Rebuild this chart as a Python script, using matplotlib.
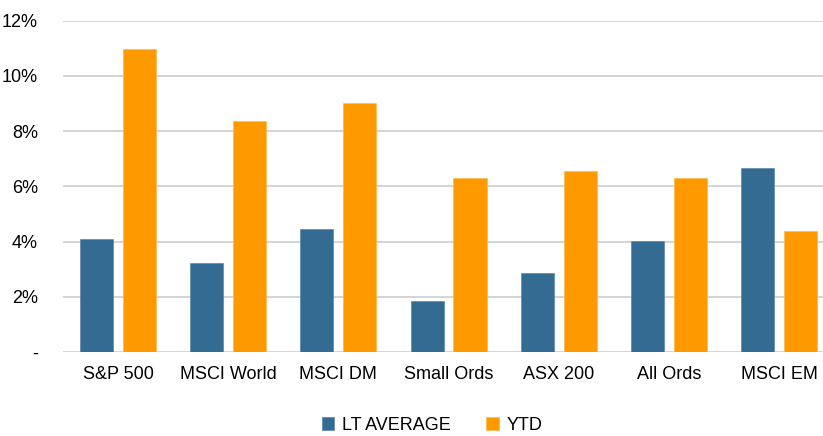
import numpy as np
import matplotlib.pyplot as plt
from matplotlib.ticker import FuncFormatter

plt.rcParams["font.family"] = ["Liberation Sans", "DejaVu Sans"]

categories = ["S&P 500", "MSCI World", "MSCI DM", "Small Ords", "ASX 200", "All Ords", "MSCI EM"]
lt_average = [4.08, 3.22, 4.45, 1.84, 2.86, 4.01, 6.65]
ytd = [10.99, 8.38, 9.03, 6.29, 6.54, 6.32, 4.37]

blue = "#346b92"
orange = "#ff9900"

fig = plt.figure(figsize=(8.23, 4.36), dpi=100)
ax = fig.add_axes([63 / 823, 1 - 352 / 436, 760 / 823, (352 - 20.7) / 436])

x = np.arange(len(categories))
w = 0.3
off = 0.195
ax.bar(x - off, lt_average, w, color=blue, label="LT AVERAGE", zorder=3,
       edgecolor="#5a88a8", linewidth=0.5)
ax.bar(x + off, ytd, w, color=orange, label="YTD", zorder=3,
       edgecolor="#ffb84d", linewidth=0.5)

ax.set_ylim(0, 12)
ax.set_xlim(-0.5, 6.5 - 11 / 110)
ax.set_yticks(np.arange(0, 13, 2))
ax.yaxis.set_major_formatter(FuncFormatter(lambda v, p: "-" if v == 0 else f"{v:.0f}%"))
ax.set_xticks(x)
ax.set_xticklabels(categories)
ax.grid(axis="y", color="#d4d4d4", linewidth=1.4, zorder=0)
for s in ax.spines.values():
    s.set_visible(False)
ax.tick_params(axis="both", length=0, labelsize=13, colors="black")
ax.tick_params(axis="y", pad=18)
ax.tick_params(axis="x", pad=10)

fig.legend(loc="center", bbox_to_anchor=(432 / 823, 1 - 425 / 436), ncol=2,
           frameon=False, fontsize=13, handlelength=0.7, handleheight=0.7,
           handletextpad=0.4, columnspacing=2.0, borderpad=0.1)

fig.savefig("out.png", dpi=100)
